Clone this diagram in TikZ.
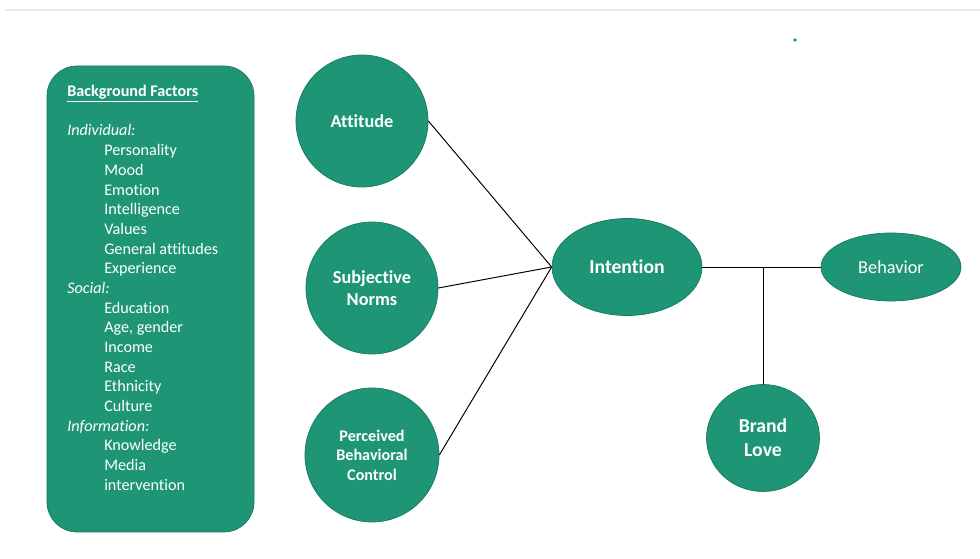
\documentclass[tikz,border=0pt]{standalone}
\usepackage{fontspec}
\setmainfont{Carlito}[Ligatures=NoCommon]
\usetikzlibrary{shapes.geometric,positioning}
\definecolor{tpbgreen}{RGB}{30,150,118}
\definecolor{tpbedge}{RGB}{24,118,93}

\begin{document}
\begin{tikzpicture}[
    bubble/.style={circle, fill=tpbgreen, draw=tpbedge, line width=0.5pt, text=white, align=center, inner sep=0pt},
    oval/.style={ellipse, fill=tpbgreen, draw=tpbedge, line width=0.5pt, text=white, align=center, inner sep=0pt},
    factorbox/.style={rectangle, rounded corners=0.75cm, fill=tpbgreen, draw=tpbedge, line width=0.5pt},
    link/.style={line width=0.7pt}
]
    \useasboundingbox (0, 0) rectangle (24.5, 13.975);
    \draw[gray!18, line width=1.6pt] (0.125, 13.725) -- (24.5, 13.725);
    \fill[tpbgreen] (19.875, 12.975) circle (0.045);

    % background factors
    \node[factorbox, minimum width=5.175cm, minimum height=11.65cm] (bg) at (3.7625, 6.5) {};
    \node[anchor=north west, inner sep=0pt, text=white, align=left,
          font=\fontsize{11.5}{14}\selectfont] (bgtext) at (1.675, 11.85) {%
        \underline{\textbf{Background Factors}}\\[14pt]
        \textit{Individual:}\\
        \hspace*{0.925cm}Personality\\
        \hspace*{0.925cm}Mood\\
        \hspace*{0.925cm}Emotion\\
        \hspace*{0.925cm}Intelligence\\
        \hspace*{0.925cm}Values\\
        \hspace*{0.925cm}General attitudes\\
        \hspace*{0.925cm}Experience\\
        \textit{Social:}\\
        \hspace*{0.925cm}Education\\
        \hspace*{0.925cm}Age, gender\\
        \hspace*{0.925cm}Income\\
        \hspace*{0.925cm}Race\\
        \hspace*{0.925cm}Ethnicity\\
        \hspace*{0.925cm}Culture\\
        \textit{Information:}\\
        \hspace*{0.925cm}Knowledge\\
        \hspace*{0.925cm}Media\\
        \hspace*{0.925cm}intervention};

    % predictors
    \node[bubble, minimum size=3.3cm, font=\bfseries\fontsize{13}{15.6}\selectfont] (att) at (9.05, 10.95) {Attitude};
    \node[bubble, minimum size=3.3cm, font=\bfseries\fontsize{13}{15.6}\selectfont] (sn) at (9.3, 6.775) {Subjective\\Norms};
    \node[bubble, minimum size=3.35cm, font=\bfseries\fontsize{11.5}{13.9}\selectfont] (pbc) at (9.3, 2.6) {Perceived\\Behavioral\\Control};

    % outcomes
    \node[oval, minimum width=3.75cm, minimum height=2.425cm, font=\bfseries\fontsize{14}{17}\selectfont] (int) at (15.675, 7.3) {Intention};
    \node[oval, minimum width=3.5cm, minimum height=1.7cm, font=\fontsize{13}{15.6}\selectfont] (beh) at (22.275, 7.3) {Behavior};
    \node[oval, minimum width=2.825cm, minimum height=2.675cm, font=\bfseries\fontsize{14}{17}\selectfont] (love) at (19.075, 3.025) {Brand\\Love};

    \draw[link] (att.east) -- (int.west);
    \draw[link] (sn.east) -- (int.west);
    \draw[link] (pbc.east) -- (int.west);
    \draw[link] (int.east) -- (beh.west);
    \coordinate (j) at (love.north |- int.east);
    \draw[link] (j) -- (love.north);
\end{tikzpicture}
\end{document}
